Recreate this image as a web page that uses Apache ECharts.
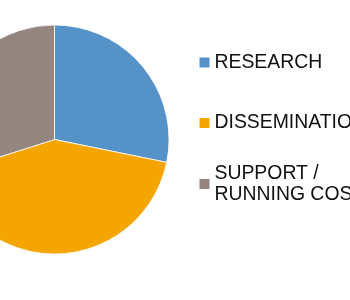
<!DOCTYPE html>
<html><head><meta charset="utf-8">
<script src="https://cdn.jsdelivr.net/npm/echarts@6/dist/echarts.min.js"></script>
<style>html,body{margin:0;padding:0;background:#fff}#c{width:350px;height:300px}</style>
</head><body><div id="c"></div>
<script>
const categories = ['RESEARCH', 'DISSEMINATION', 'SUPPORT / RUNNING COSTS'];
const legendLabels = ['RESEARCH', 'DISSEMINATION', 'SUPPORT /\nRUNNING COSTS'];
const values = [28.2, 41.9, 29.9];
const colors = ['#5592c8', '#f5a500', '#94857f'];

const chart = echarts.init(document.getElementById('c'), null, {renderer: 'canvas'});
const legendTops = [52, 112.5, 152.5];
const legends = categories.map((name, i) => ({
  orient: 'vertical', left: 199.5, top: legendTops[i], padding: 0,
  icon: 'rect', itemWidth: 10, itemHeight: 10, itemGap: 5,
  itemStyle: {borderWidth: 0},
  data: [name],
  formatter: () => legendLabels[i],
  textStyle: {
    fontFamily: 'Liberation Sans, Arial, sans-serif', fontSize: 19.4, color: '#111',
    lineHeight: 21, padding: i === 2 ? [21, 0, 0, 0] : 0
  }
}));
chart.setOption({
  animation: false,
  color: colors,
  legend: legends,
  series: [{
    type: 'pie', center: [54.5, 139.5], radius: 114.5, startAngle: 90, clockwise: true,
    label: {show: false}, labelLine: {show: false},
    itemStyle: {borderColor: '#fff', borderWidth: 0.8},
    emphasis: {disabled: true},
    data: categories.map((n, i) => ({name: n, value: values[i]}))
  }]
});
</script></body></html>
